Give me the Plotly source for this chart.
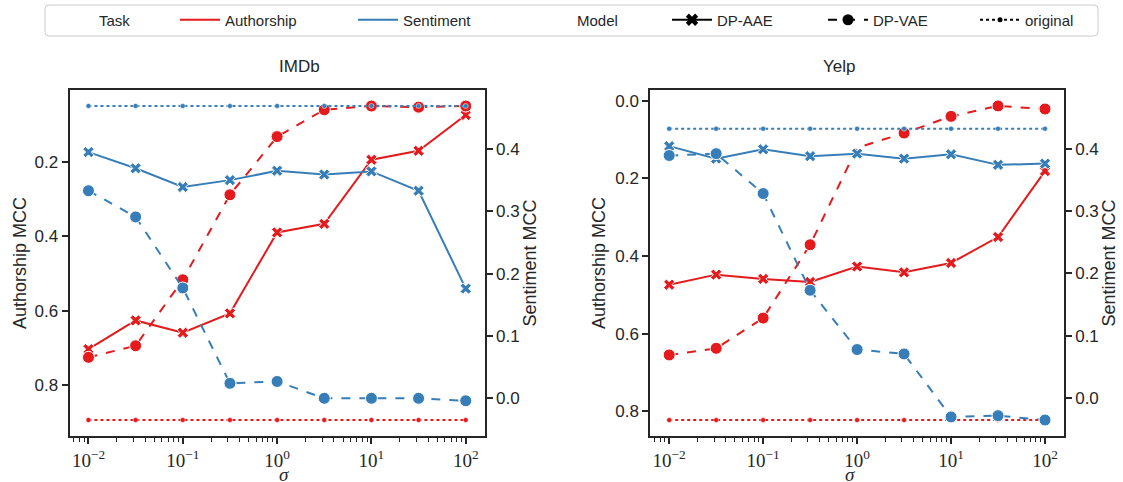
import plotly.graph_objects as go

sigma = [0.01, 0.0316228, 0.1, 0.316228, 1.0, 3.16228, 10.0, 31.6228, 100.0]
sigma_ticks = [0.01, 0.1, 1, 10, 100]
sigma_tick_labels = ["10<sup>−2</sup>", "10<sup>−1</sup>", "10<sup>0</sup>", "10<sup>1</sup>", "10<sup>2</sup>"]

imdb_auth_aae = [0.703, 0.626, 0.659, 0.607, 0.390, 0.367, 0.195, 0.171, 0.075]
imdb_auth_vae = [0.725, 0.694, 0.517, 0.289, 0.133, 0.061, 0.051, 0.054, 0.051]
imdb_auth_orig = 0.893
imdb_sent_aae = [0.395, 0.369, 0.339, 0.350, 0.365, 0.359, 0.364, 0.333, 0.176]
imdb_sent_vae = [0.333, 0.291, 0.177, 0.024, 0.027, 0.000, 0.000, 0.000, -0.004]
imdb_sent_orig = 0.469

yelp_auth_aae = [0.474, 0.448, 0.459, 0.467, 0.427, 0.442, 0.418, 0.351, 0.181]
yelp_auth_vae = [0.655, 0.638, 0.560, 0.371, 0.121, 0.083, 0.040, 0.013, 0.021]
yelp_auth_orig = 0.823
yelp_sent_aae = [0.404, 0.384, 0.399, 0.388, 0.392, 0.384, 0.391, 0.374, 0.376]
yelp_sent_vae = [0.389, 0.392, 0.328, 0.173, 0.078, 0.071, -0.030, -0.028, -0.035]
yelp_sent_orig = 0.432

legend_names = ["Task", "Authorship", "Sentiment", "Model", "DP-AAE", "DP-VAE", "original"]

RED = "#e41a1c"
BLUE = "#377eb8"
AX = "#262626"
FONT = "Liberation Sans"
SERIF = "Liberation Serif"
W, H = 1123, 482

fig = go.Figure()


def add_panel(xa, ya_auth, ya_sent, auth_aae, auth_vae, auth_orig, sent_aae, sent_vae, sent_orig,
              hide_auth_vae_marker=None):
    for ya, col, aae, vae, orig, hide in [
        (ya_auth, RED, auth_aae, auth_vae, auth_orig, hide_auth_vae_marker),
        (ya_sent, BLUE, sent_aae, sent_vae, sent_orig, None),
    ]:
        fig.add_trace(go.Scatter(
            x=sigma, y=[orig] * len(sigma), xaxis=xa, yaxis=ya, mode="lines+markers",
            line=dict(color=col, width=2, dash="dot"),
            marker=dict(symbol="circle", size=5, color=col, line=dict(color="white", width=0.5)),
            showlegend=False, hoverinfo="skip"))
        fig.add_trace(go.Scatter(
            x=sigma, y=aae, xaxis=xa, yaxis=ya, mode="lines+markers",
            line=dict(color=col, width=2, dash="solid"),
            marker=dict(symbol="x", size=10, color=col, line=dict(color="white", width=1)),
            showlegend=False))
        op = [0.0 if i == hide else 1.0 for i in range(len(sigma))]
        fig.add_trace(go.Scatter(
            x=sigma, y=vae, xaxis=xa, yaxis=ya, mode="lines+markers",
            line=dict(color=col, width=2, dash="dash"),
            marker=dict(symbol="circle", size=12, color=col, opacity=op, line=dict(color="white", width=1)),
            showlegend=False))


add_panel("x", "y", "y2", imdb_auth_aae, imdb_auth_vae, imdb_auth_orig,
          imdb_sent_aae, imdb_sent_vae, imdb_sent_orig)
add_panel("x2", "y3", "y4", yelp_auth_aae, yelp_auth_vae, yelp_auth_orig,
          yelp_sent_aae, yelp_sent_vae, yelp_sent_orig, hide_auth_vae_marker=4)

# legend entries, each in its own legend so they can be spaced like the reference
invisible = "rgba(0,0,0,0)"
leg_style = [
    (dict(color=invisible, width=2), None, "lines"),
    (dict(color=RED, width=2), None, "lines"),
    (dict(color=BLUE, width=2), None, "lines"),
    (dict(color=invisible, width=2), None, "lines"),
    (dict(color="black", width=2), dict(symbol="x", size=11, color="black"), "lines+markers"),
    (dict(color="black", width=2, dash="dash"), dict(symbol="circle", size=11, color="black"), "lines+markers"),
    (dict(color="black", width=2, dash="dot"), dict(symbol="circle", size=5, color="black"), "lines+markers"),
]
leg_x_px = [49, 175, 353, 527, 667, 823, 975]
legend_layout = {}
for i, (name, (ln, mk, mode)) in enumerate(zip(legend_names, leg_style)):
    kw = dict(marker=mk) if mk else {}
    lname = "legend" if i == 0 else f"legend{i + 1}"
    fig.add_trace(go.Scatter(x=[None], y=[None], name=name, mode=mode, line=ln,
                             showlegend=True, legend=lname, xaxis="x", yaxis="y", **kw))
    legend_layout[lname] = dict(
        orientation="h", x=leg_x_px[i] / W, y=(H - 20) / H, xanchor="left", yanchor="middle",
        borderwidth=0, bgcolor="rgba(0,0,0,0)", font=dict(family=FONT, size=15, color=AX),
        itemwidth=40)

xdom1 = [69.6 / W, 484.6 / W]
xdom2 = [650.4 / W, 1063.8 / W]
ydom = [46 / H, 392 / H]

xcommon = dict(type="log", range=[-2.2, 2.2], tickvals=sigma_ticks, ticktext=sigma_tick_labels,
               showline=True, mirror=True, linecolor=AX, linewidth=2, automargin=False,
               ticks="outside", ticklen=6, tickwidth=1.5, tickcolor=AX,
               minor=dict(ticks="outside", ticklen=3.5, tickwidth=1, tickcolor=AX, dtick="D1", showgrid=False),
               showgrid=False, zeroline=False,
               tickfont=dict(family=SERIF, size=19, color=AX))

ycommon = dict(showline=True, linecolor=AX, linewidth=2, ticks="outside", ticklen=6, automargin=False,
               tickwidth=1.5, tickcolor=AX, showgrid=False, zeroline=False, tickformat=".1f",
               tickfont=dict(family=FONT, size=17, color=AX))

# rounded legend frame
x0, x1 = 45 / W, 1098 / W
y0, y1 = (H - 36) / H, (H - 5) / H
rx, ry = 4 / W, 4 / H
frame_path = (f"M {x0 + rx},{y1} L {x1 - rx},{y1} Q {x1},{y1} {x1},{y1 - ry} "
              f"L {x1},{y0 + ry} Q {x1},{y0} {x1 - rx},{y0} L {x0 + rx},{y0} "
              f"Q {x0},{y0} {x0},{y0 + ry} L {x0},{y1 - ry} Q {x0},{y1} {x0 + rx},{y1} Z")

fig.update_layout(
    width=W, height=H,
    margin=dict(l=0, r=0, t=0, b=0),
    paper_bgcolor="white", plot_bgcolor="white",
    font=dict(family=FONT, size=16, color=AX),
    xaxis=dict(domain=xdom1, anchor="y", **xcommon),
    xaxis2=dict(domain=xdom2, anchor="y3", **xcommon),
    yaxis=dict(domain=ydom, anchor="x", range=[0.936, 0.008], tickvals=[0.2, 0.4, 0.6, 0.8],
               title=dict(text="Authorship MCC", font=dict(size=18), standoff=3), **ycommon),
    yaxis2=dict(domain=ydom, anchor="x", overlaying="y", side="right", range=[-0.0605, 0.4946],
                tickvals=[0.0, 0.1, 0.2, 0.3, 0.4],
                title=dict(text="Sentiment MCC", font=dict(size=18), standoff=1), **ycommon),
    yaxis3=dict(domain=ydom, anchor="x2", range=[0.864, -0.028], tickvals=[0.0, 0.2, 0.4, 0.6, 0.8],
                title=dict(text="Authorship MCC", font=dict(size=18), standoff=5), **ycommon),
    yaxis4=dict(domain=ydom, anchor="x2", overlaying="y3", side="right", range=[-0.0606, 0.494],
                tickvals=[0.0, 0.1, 0.2, 0.3, 0.4],
                title=dict(text="Sentiment MCC", font=dict(size=18), standoff=1), **ycommon),
    shapes=[dict(type="path", xref="paper", yref="paper", path=frame_path,
                 line=dict(color="#cccccc", width=1), fillcolor="rgba(0,0,0,0)", layer="below")],
    annotations=[
        dict(text="IMDb", x=(xdom1[0] + xdom1[1]) / 2, y=(H - 67) / H, xref="paper", yref="paper",
             showarrow=False, font=dict(family=FONT, size=17, color=AX), yanchor="middle"),
        dict(text="Yelp", x=(xdom2[0] + xdom2[1]) / 2, y=(H - 67) / H, xref="paper", yref="paper",
             showarrow=False, font=dict(family=FONT, size=17, color=AX), yanchor="middle"),
        dict(text="<i>σ</i>", x=(xdom1[0] + xdom1[1]) / 2, y=(H - 474) / H, xref="paper", yref="paper",
             showarrow=False, font=dict(family=SERIF, size=19, color=AX), yanchor="middle"),
        dict(text="<i>σ</i>", x=(xdom2[0] + xdom2[1]) / 2, y=(H - 474) / H, xref="paper", yref="paper",
             showarrow=False, font=dict(family=SERIF, size=19, color=AX), yanchor="middle"),
    ],
    **legend_layout,
)

fig.write_html("out.html", config={"displayModeBar": False},
               post_script="document.body.style.margin='0';")
